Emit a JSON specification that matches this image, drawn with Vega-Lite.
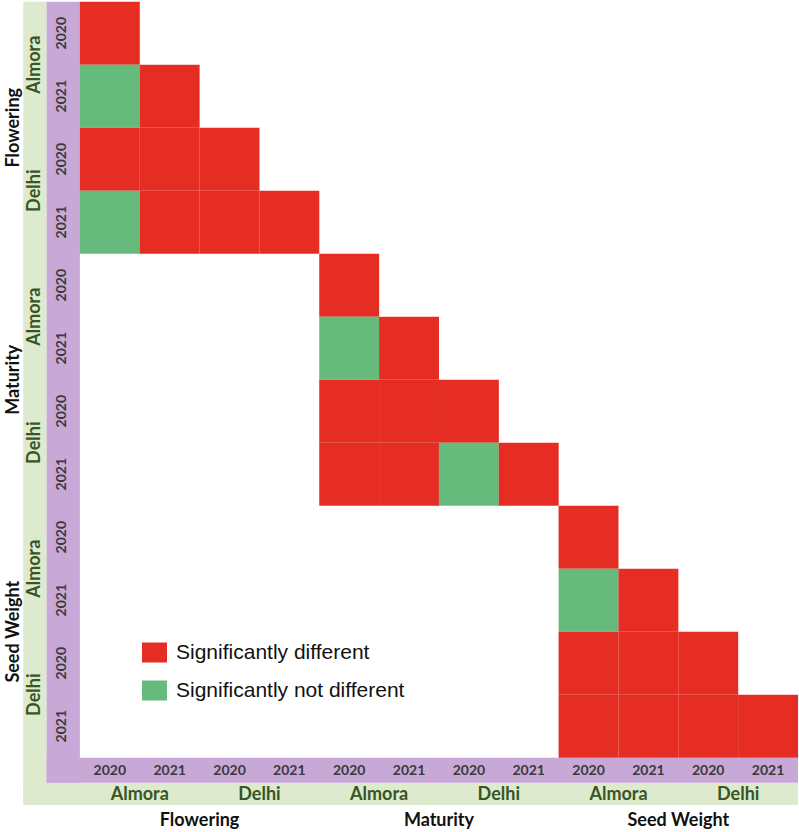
{
  "$schema": "https://vega.github.io/schema/vega-lite/v6.json",
  "width": 799,
  "height": 832,
  "autosize": {"type": "fit", "contains": "padding"},
  "padding": 0,
  "background": "white",
  "config": {"view": {"stroke": null}},
  "data": {"name": "cells"},
  "datasets": {
    "cells": [
      {"row": 1, "col": 1, "result": "Significantly different"},
      {"row": 2, "col": 1, "result": "Significantly not different"},
      {"row": 2, "col": 2, "result": "Significantly different"},
      {"row": 3, "col": 1, "result": "Significantly different"},
      {"row": 3, "col": 2, "result": "Significantly different"},
      {"row": 3, "col": 3, "result": "Significantly different"},
      {"row": 4, "col": 1, "result": "Significantly not different"},
      {"row": 4, "col": 2, "result": "Significantly different"},
      {"row": 4, "col": 3, "result": "Significantly different"},
      {"row": 4, "col": 4, "result": "Significantly different"},
      {"row": 5, "col": 5, "result": "Significantly different"},
      {"row": 6, "col": 5, "result": "Significantly not different"},
      {"row": 6, "col": 6, "result": "Significantly different"},
      {"row": 7, "col": 5, "result": "Significantly different"},
      {"row": 7, "col": 6, "result": "Significantly different"},
      {"row": 7, "col": 7, "result": "Significantly different"},
      {"row": 8, "col": 5, "result": "Significantly different"},
      {"row": 8, "col": 6, "result": "Significantly different"},
      {"row": 8, "col": 7, "result": "Significantly not different"},
      {"row": 8, "col": 8, "result": "Significantly different"},
      {"row": 9, "col": 9, "result": "Significantly different"},
      {"row": 10, "col": 9, "result": "Significantly not different"},
      {"row": 10, "col": 10, "result": "Significantly different"},
      {"row": 11, "col": 9, "result": "Significantly different"},
      {"row": 11, "col": 10, "result": "Significantly different"},
      {"row": 11, "col": 11, "result": "Significantly different"},
      {"row": 12, "col": 9, "result": "Significantly different"},
      {"row": 12, "col": 10, "result": "Significantly different"},
      {"row": 12, "col": 11, "result": "Significantly different"},
      {"row": 12, "col": 12, "result": "Significantly different"}
    ],
    "labels": [
      {"idx": 1, "trait": "Flowering", "location": "Almora", "year": "2020"},
      {"idx": 2, "trait": "Flowering", "location": "Almora", "year": "2021"},
      {"idx": 3, "trait": "Flowering", "location": "Delhi", "year": "2020"},
      {"idx": 4, "trait": "Flowering", "location": "Delhi", "year": "2021"},
      {"idx": 5, "trait": "Maturity", "location": "Almora", "year": "2020"},
      {"idx": 6, "trait": "Maturity", "location": "Almora", "year": "2021"},
      {"idx": 7, "trait": "Maturity", "location": "Delhi", "year": "2020"},
      {"idx": 8, "trait": "Maturity", "location": "Delhi", "year": "2021"},
      {"idx": 9, "trait": "Seed Weight", "location": "Almora", "year": "2020"},
      {"idx": 10, "trait": "Seed Weight", "location": "Almora", "year": "2021"},
      {"idx": 11, "trait": "Seed Weight", "location": "Delhi", "year": "2020"},
      {"idx": 12, "trait": "Seed Weight", "location": "Delhi", "year": "2021"}
    ],
    "one": [{}]
  },
  "layer": [
    {
      "data": {"name": "one"},
      "mark": {"type": "rect", "color": "#DDEACE"},
      "encoding": {
        "x": {"datum": -0.446, "type": "quantitative", "scale": {"domain": [-0.8352, 12.5], "nice": false, "zero": false}, "axis": null},
        "x2": {"datum": -0.056},
        "y": {"datum": 0.5, "type": "quantitative", "scale": {"domain": [0.473, 13.679], "nice": false, "zero": false, "reverse": true}, "axis": null},
        "y2": {"datum": 13.251}
      }
    },
    {
      "data": {"name": "one"},
      "mark": {"type": "rect", "color": "#DDEACE"},
      "encoding": {
        "x": {"datum": -0.446, "type": "quantitative"},
        "x2": {"datum": 12.5},
        "y": {"datum": 12.897, "type": "quantitative"},
        "y2": {"datum": 13.251}
      }
    },
    {
      "data": {"name": "one"},
      "mark": {"type": "rect", "color": "#C8A8D7"},
      "encoding": {
        "x": {"datum": -0.056, "type": "quantitative"},
        "x2": {"datum": 0.5},
        "y": {"datum": 0.5, "type": "quantitative"},
        "y2": {"datum": 12.897}
      }
    },
    {
      "data": {"name": "one"},
      "mark": {"type": "rect", "color": "#C8A8D7"},
      "encoding": {
        "x": {"datum": -0.056, "type": "quantitative"},
        "x2": {"datum": 12.5},
        "y": {"datum": 12.5, "type": "quantitative"},
        "y2": {"datum": 12.897}
      }
    },
    {
      "mark": {"type": "rect", "width": 59.92, "height": 63.0},
      "encoding": {
        "x": {"field": "col", "type": "quantitative"},
        "y": {"field": "row", "type": "quantitative"},
        "color": {
          "field": "result",
          "type": "nominal",
          "scale": {"domain": ["Significantly different", "Significantly not different"], "range": ["#E52D24", "#66BB7C"]},
          "legend": {
            "title": null,
            "orient": "none",
            "legendX": 144,
            "legendY": 642,
            "padding": 0,
            "symbolType": "M-1.25,-1H1.25V1H-1.25Z",
            "symbolSize": 400,
            "symbolStrokeWidth": 0,
            "symbolOpacity": 1,
            "labelFont": "Liberation Sans",
            "labelFontSize": 21,
            "labelColor": "#111111",
            "labelOffset": 11,
            "labelLimit": 400,
            "rowPadding": 16
          }
        }
      }
    },
    {
      "data": {"name": "labels"},
      "mark": {"type": "text", "angle": 270, "font": "Lato", "fontWeight": "bold", "fontSize": 14, "color": "#3A3A3A", "baseline": "middle", "align": "center"},
      "encoding": {
        "x": {"datum": 0.196, "type": "quantitative"},
        "y": {"field": "idx", "type": "quantitative"},
        "text": {"field": "year"}
      }
    },
    {
      "data": {"name": "labels"},
      "mark": {"type": "text", "font": "Lato", "fontWeight": "bold", "fontSize": 14, "color": "#3A3A3A", "baseline": "middle", "align": "center"},
      "encoding": {
        "x": {"field": "idx", "type": "quantitative"},
        "y": {"datum": 12.708, "type": "quantitative"},
        "text": {"field": "year"}
      }
    },
    {
      "data": {"name": "labels"},
      "mark": {"type": "text", "angle": 270, "font": "Lato", "fontWeight": "bold", "fontSize": 18, "color": "#375623", "baseline": "middle", "align": "center"},
      "encoding": {
        "x": {"datum": -0.2444, "type": "quantitative"},
        "y": {"aggregate": "mean", "field": "idx", "type": "quantitative"},
        "detail": {"field": "trait"},
        "text": {"field": "location"}
      }
    },
    {
      "data": {"name": "labels"},
      "mark": {"type": "text", "font": "Lato", "fontWeight": "bold", "fontSize": 18, "color": "#375623", "baseline": "middle", "align": "center"},
      "encoding": {
        "x": {"aggregate": "mean", "field": "idx", "type": "quantitative"},
        "y": {"datum": 13.087, "type": "quantitative"},
        "detail": {"field": "trait"},
        "text": {"field": "location"}
      }
    },
    {
      "data": {"name": "labels"},
      "mark": {"type": "text", "angle": 270, "font": "Lato", "fontWeight": "bold", "fontSize": 18, "color": "#111111", "baseline": "middle", "align": "center"},
      "encoding": {
        "x": {"datum": -0.605, "type": "quantitative"},
        "y": {"aggregate": "mean", "field": "idx", "type": "quantitative"},
        "text": {"field": "trait"}
      }
    },
    {
      "data": {"name": "labels"},
      "mark": {"type": "text", "font": "Lato", "fontWeight": "bold", "fontSize": 18, "color": "#111111", "baseline": "middle", "align": "center"},
      "encoding": {
        "x": {"aggregate": "mean", "field": "idx", "type": "quantitative"},
        "y": {"datum": 13.5, "type": "quantitative"},
        "text": {"field": "trait"}
      }
    }
  ]
}
